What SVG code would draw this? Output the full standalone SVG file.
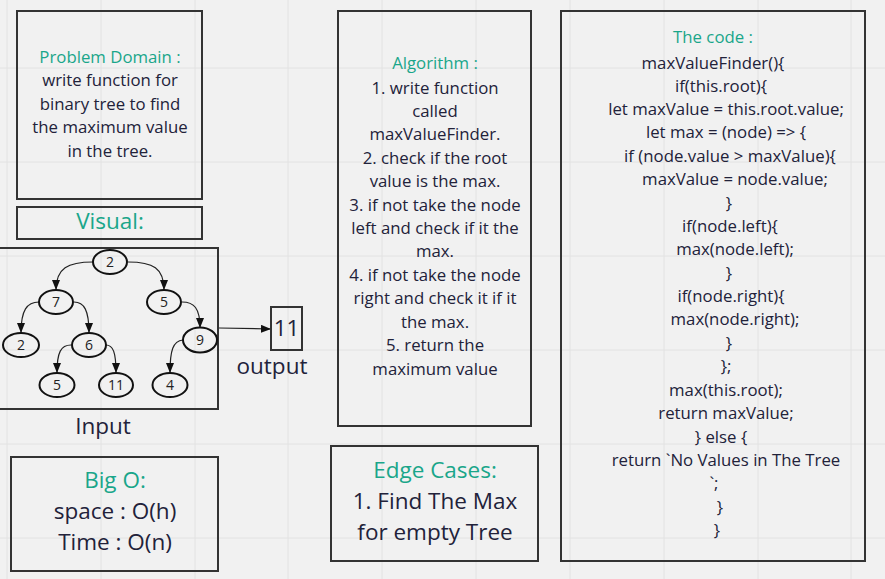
<svg xmlns="http://www.w3.org/2000/svg" width="885" height="579" viewBox="0 0 885 579">
<style>
.box{fill:none;stroke:#333;stroke-width:2}
.t{font-family:"Open Sans","Liberation Sans",sans-serif;font-size:16.8px;fill:#22223a;text-anchor:middle}
.h{fill:#1aa68a}
.big{font-size:22.5px}
.n{font-family:"Open Sans","Liberation Sans",sans-serif;font-size:14px;fill:#222;text-anchor:middle}
.nd{fill:none;stroke:#111;stroke-width:2}
.e{fill:none;stroke:#222;stroke-width:1.2}
.g{stroke:#e2e2e2;stroke-width:1}
</style>
<defs>
<marker id="ah" markerUnits="userSpaceOnUse" markerWidth="10" markerHeight="8" refX="10" refY="4" orient="auto">
<path d="M0,0 L10,4 L0,8 z" fill="#111"/>
</marker>
</defs>
<rect width="885" height="579" fill="#f1f1f1"/>
<g id="grid">
<path class="g" d="M7,0V579M101,0V579M195,0V579M288,0V579M382,0V579M476,0V579M570,0V579M664,0V579M758,0V579M851,0V579M0,68H885M0,162H885M0,256H885M0,350H885M0,444H885M0,538H885"/>
</g>
<g id="problem">
<rect class="box" x="17" y="11" width="185" height="188"/>
<text class="t" x="110"><tspan class="h" x="110" y="63">Problem Domain :</tspan><tspan x="110" y="86">write function for</tspan><tspan x="110" y="110">binary tree to find</tspan><tspan x="110" y="133">the maximum value</tspan><tspan x="110" y="157">in the tree.</tspan></text>
</g>
<g id="visual">
<rect class="box" x="17" y="207" width="185" height="32"/>
<text class="t h big" x="110" y="229">Visual:</text>
</g>
<g id="input">
<rect class="box" x="-5" y="248" width="223" height="161"/>
<text class="t big" x="103" y="434">Input</text>
</g>
<g id="connectors">
<path class="e" marker-end="url(#ah)" d="M93,262 C68,262 56,268 56,290"/>
<path class="e" marker-end="url(#ah)" d="M128,262 C153,262 164,268 164,290"/>
<path class="e" marker-end="url(#ah)" d="M39,302 C27,302 21,310 21,333"/>
<path class="e" marker-end="url(#ah)" d="M74,302 C84,302 89,310 89,333"/>
<path class="e" marker-end="url(#ah)" d="M182,302 C194,302 200,308 200,328"/>
<path class="e" marker-end="url(#ah)" d="M71,345 C61,345 57,352 57,373"/>
<path class="e" marker-end="url(#ah)" d="M106,345 C113,345 116,352 116,373"/>
<path class="e" marker-end="url(#ah)" d="M183,340 C173,341 170,350 170,373"/>
<path class="e" marker-end="url(#ah)" d="M219,328 L271,329"/>
</g>
<g id="n-root"><ellipse class="nd" cx="110" cy="262" rx="17" ry="12"/><text class="n" x="110" y="267">2</text></g>
<g id="n-7"><ellipse class="nd" cx="56" cy="302" rx="17" ry="12"/><text class="n" x="56" y="307">7</text></g>
<g id="n-5"><ellipse class="nd" cx="164" cy="302" rx="17" ry="12"/><text class="n" x="164" y="307">5</text></g>
<g id="n-2"><ellipse class="nd" cx="21" cy="345" rx="18" ry="12"/><text class="n" x="21" y="350">2</text></g>
<g id="n-6"><ellipse class="nd" cx="89" cy="345" rx="17" ry="12"/><text class="n" x="89" y="350">6</text></g>
<g id="n-9"><ellipse class="nd" cx="200" cy="340" rx="17" ry="12.5"/><text class="n" x="200" y="345">9</text></g>
<g id="n-5b"><ellipse class="nd" cx="57" cy="385" rx="17.5" ry="12"/><text class="n" x="57" y="390">5</text></g>
<g id="n-11"><ellipse class="nd" cx="116" cy="385" rx="17" ry="12"/><text class="n" x="116" y="390">11</text></g>
<g id="n-4"><ellipse class="nd" cx="170" cy="385" rx="17.5" ry="12"/><text class="n" x="170" y="390">4</text></g>
<g id="output">
<rect class="box" x="271" y="307" width="31" height="43"/>
<text class="t big" x="286.5" y="336">11</text>
<text class="t big" x="272" y="374">output</text>
</g>
<g id="bigo">
<rect class="box" x="11" y="457" width="207" height="114"/>
<text class="t big"><tspan class="h" x="115" y="488">Big O:</tspan><tspan x="115" y="519">space : O(h)</tspan><tspan x="115" y="550">Time : O(n)</tspan></text>
</g>
<g id="algorithm">
<rect class="box" x="338" y="11" width="193" height="415"/>
<text class="t"><tspan class="h" x="435" y="69">Algorithm :</tspan><tspan x="435" y="94">1. write function</tspan><tspan x="435" y="117">called</tspan><tspan x="435" y="140">maxValueFinder.</tspan><tspan x="435" y="164">2. check if the root</tspan><tspan x="435" y="187">value is the max.</tspan><tspan x="435" y="211">3. if not take the node</tspan><tspan x="435" y="234">left and check if it the</tspan><tspan x="435" y="257">max.</tspan><tspan x="435" y="281">4. if not take the node</tspan><tspan x="435" y="304">right and check it if it</tspan><tspan x="435" y="328">the max.</tspan><tspan x="435" y="351">5. return the</tspan><tspan x="435" y="375">maximum value</tspan></text>
</g>
<g id="edge">
<rect class="box" x="331" y="446" width="207" height="115"/>
<text class="t big"><tspan class="h" x="435" y="478">Edge Cases:</tspan><tspan x="435" y="509">1. Find The Max</tspan><tspan x="435" y="540">for empty Tree</tspan></text>
</g>
<g id="code">
<rect class="box" x="561" y="11" width="304" height="550"/>
<text class="t"><tspan class="h" x="713" y="43">The code :</tspan><tspan x="713" y="69">maxValueFinder(){</tspan><tspan x="721" y="92">if(this.root){</tspan><tspan x="726" y="115">let maxValue = this.root.value;</tspan><tspan x="726" y="138">let max = (node) =&gt; {</tspan><tspan x="730" y="162">if (node.value &gt; maxValue){</tspan><tspan x="735" y="185">maxValue = node.value;</tspan><tspan x="729" y="209">}</tspan><tspan x="730" y="232">if(node.left){</tspan><tspan x="735" y="255">max(node.left);</tspan><tspan x="729" y="279">}</tspan><tspan x="731" y="302">if(node.right){</tspan><tspan x="735" y="325">max(node.right);</tspan><tspan x="729" y="349">}</tspan><tspan x="726" y="372">};</tspan><tspan x="726" y="396">max(this.root);</tspan><tspan x="726" y="419">return maxValue;</tspan><tspan x="721" y="443">} else {</tspan><tspan x="726" y="466">return `No Values in The Tree</tspan><tspan x="714" y="489">`;</tspan><tspan x="720" y="513">}</tspan><tspan x="717" y="536">}</tspan></text>
</g>
</svg>
